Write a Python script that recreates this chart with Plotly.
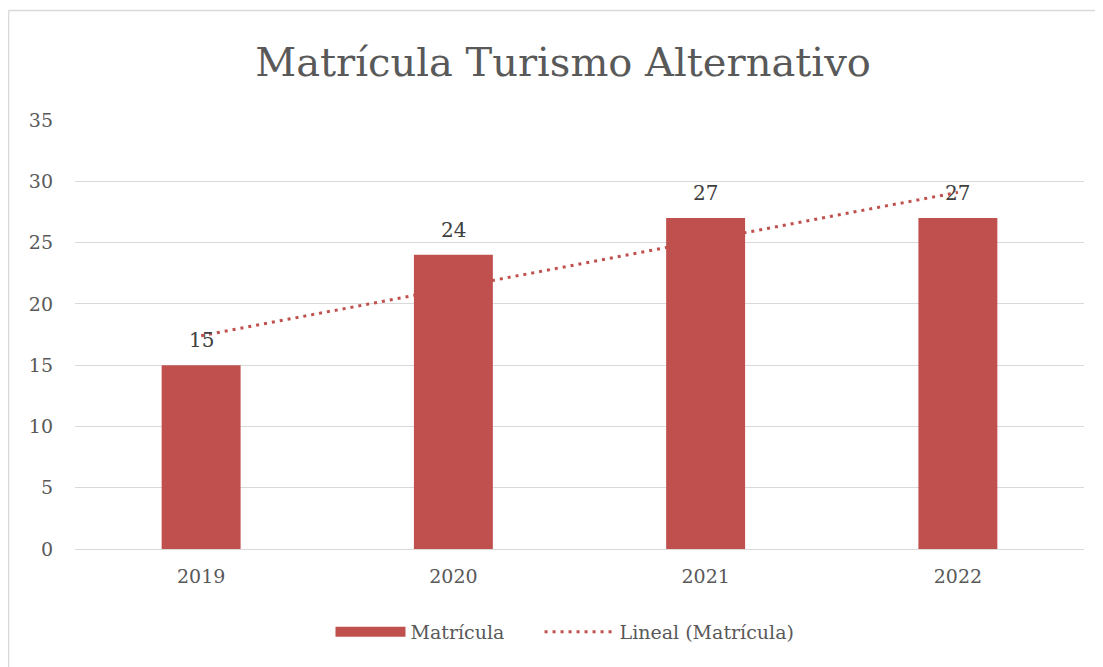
import numpy as np
import plotly.graph_objects as go

years = ["2019", "2020", "2021", "2022"]
matricula = [15, 24, 27, 27]
title_text = "Matrícula Turismo Alternativo"
y_ticks = [0, 5, 10, 15, 20, 25, 30, 35]

# linear trend (Excel "Lineal") computed from the data
xi = np.arange(1, len(matricula) + 1)
slope, intercept = np.polyfit(xi, matricula, 1)
trend = list(slope * xi + intercept)

FONT = "DejaVu Serif"
BAR = "#C0504D"

fig = go.Figure()
fig.add_trace(go.Bar(
    x=years, y=matricula, name="Matrícula",
    marker=dict(color=BAR, line=dict(width=0)),
    width=0.313, showlegend=False,
))
fig.add_trace(go.Scatter(
    x=years, y=trend, name="Lineal (Matrícula)", mode="lines",
    line=dict(color=BAR, width=3, dash="3px,5px"), legendrank=2,
))
# legend entry with a wide bar-like swatch (legend only)
fig.add_trace(go.Scatter(
    x=[years[0]], y=[None], name="Matrícula" + "\u00a0" * 5, mode="lines",
    line=dict(color=BAR, width=12), legendrank=1, hoverinfo="skip",
))

# data labels (category index positions on the category axis)
for i, v in enumerate(matricula):
    fig.add_annotation(x=i, y=v, xref="x", yref="y", text=str(v), showarrow=False, yshift=25,
                       yanchor="middle", font=dict(family=FONT, size=20, color="#404040"))

# page has an 8px body margin; compensate so the plot lands where the reference has it
OFF = 8
W, H = 1103, 667
L, T = 75 - OFF, 120 - OFF
R = W - (1084 - OFF)
B = H - (549 - OFF)
pw = W - L - R
ph = H - T - B

bx = (8.5 - OFF - L) / pw
by = (H - B - (10.5 - OFF)) / ph

fig.update_layout(
    width=W, height=H,
    margin=dict(l=L, r=R, t=T, b=B),
    paper_bgcolor="white", plot_bgcolor="white",
    font=dict(family=FONT, color="#595959"),
    title=dict(text=title_text, x=(563 - OFF) / W, xanchor="center", y=1 - (62 - OFF) / H, yanchor="middle",
               font=dict(family=FONT, size=40, color="#595959")),
    showlegend=True,
    legend=dict(orientation="h", x=(565 - OFF - L) / pw, xanchor="center", y=(ph - (632 - 120)) / ph,
                yanchor="middle",
                font=dict(family=FONT, size=19, color="#595959"), traceorder="normal",
                itemwidth=70),
    xaxis=dict(type="category", categoryorder="array", categoryarray=years, range=[-0.5, len(years) - 0.5],
               showgrid=False, showline=True, linecolor="#D9D9D9", linewidth=1,
               ticks="", tickfont=dict(family=FONT, size=19, color="#595959"), ticklabelstandoff=10),
    yaxis=dict(range=[0, 35], tickvals=y_ticks, showgrid=True, gridcolor="#D9D9D9", gridwidth=1,
               zeroline=False, showline=False, ticks="",
               tickfont=dict(family=FONT, size=19, color="#595959"), ticklabelstandoff=21),
    shapes=[
        dict(type="line", xref="paper", yref="paper",
             x0=bx, x1=1.2, y0=by, y1=by,
             line=dict(color="#D9D9D9", width=1.5)),
        dict(type="line", xref="paper", yref="paper",
             x0=bx, x1=bx, y0=by, y1=-0.5,
             line=dict(color="#D9D9D9", width=1.5)),
    ],
)

fig.write_html("out.html")
